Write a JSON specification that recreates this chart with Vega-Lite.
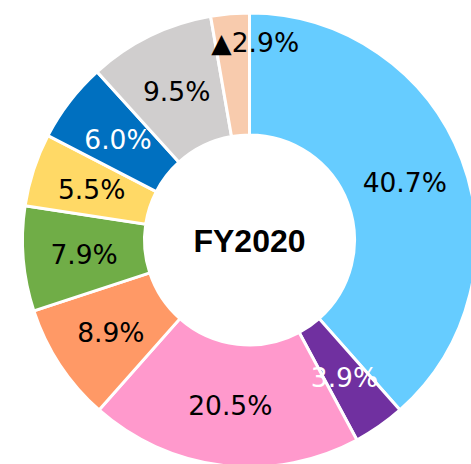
{
  "$schema": "https://vega.github.io/schema/vega-lite/v6.json",
  "width": 499,
  "height": 480,
  "padding": 0,
  "autosize": {"type": "none"},
  "background": "white",
  "layer": [
    {
      "data": {"name": "slices", "values": [
        {"segment": "S1", "idx": 1, "value": 40.7, "label": "40.7%"},
        {"segment": "S2", "idx": 2, "value": 3.9, "label": "3.9%"},
        {"segment": "S3", "idx": 3, "value": 20.5, "label": "20.5%"},
        {"segment": "S4", "idx": 4, "value": 8.9, "label": "8.9%"},
        {"segment": "S5", "idx": 5, "value": 7.9, "label": "7.9%"},
        {"segment": "S6", "idx": 6, "value": 5.5, "label": "5.5%"},
        {"segment": "S7", "idx": 7, "value": 6.0, "label": "6.0%"},
        {"segment": "S8", "idx": 8, "value": 9.5, "label": "9.5%"},
        {"segment": "S9", "idx": 9, "value": 2.9, "label": "▲2.9%"}
      ]},
      "encoding": {
        "theta": {"field": "value", "type": "quantitative", "stack": true},
        "order": {"field": "idx", "type": "quantitative"}
      },
      "layer": [
        {
          "mark": {"type": "arc", "outerRadius": 227, "innerRadius": 105, "stroke": "white", "strokeWidth": 3},
          "encoding": {
            "color": {
              "field": "segment", "type": "nominal", "legend": null,
              "scale": {
                "domain": ["S1", "S2", "S3", "S4", "S5", "S6", "S7", "S8", "S9"],
                "range": ["#66CCFF", "#7030A0", "#FF99CC", "#FF9966", "#70AD47", "#FFD966", "#0070C0", "#D0CECE", "#F8CBAD"]
              }
            }
          }
        },
        {
          "mark": {"type": "text", "radius": 166, "dy": 2.5, "font": "DejaVu Sans", "fontSize": 26.5, "baseline": "middle", "align": "center"},
          "encoding": {
            "text": {"field": "label", "type": "nominal"},
            "color": {"condition": {"test": "datum.idx == 2 || datum.idx == 7", "value": "white"}, "value": "black"},
            "opacity": {"condition": {"test": "datum.idx == 9", "value": 0}, "value": 1}
          }
        },
        {
          "mark": {"type": "text", "radius": 166, "dx": 20, "dy": -31, "font": "DejaVu Sans", "fontSize": 26.5, "baseline": "middle", "align": "center", "color": "black"},
          "encoding": {
            "text": {"field": "label", "type": "nominal"},
            "opacity": {"condition": {"test": "datum.idx == 9", "value": 1}, "value": 0}
          }
        }
      ]
    },
    {
      "data": {"values": [{"title": "FY2020"}]},
      "mark": {"type": "text", "dy": 1.5, "font": "Liberation Sans", "fontWeight": "bold", "fontSize": 32, "baseline": "middle", "align": "center", "color": "black"},
      "encoding": {"text": {"field": "title", "type": "nominal"}}
    }
  ]
}
